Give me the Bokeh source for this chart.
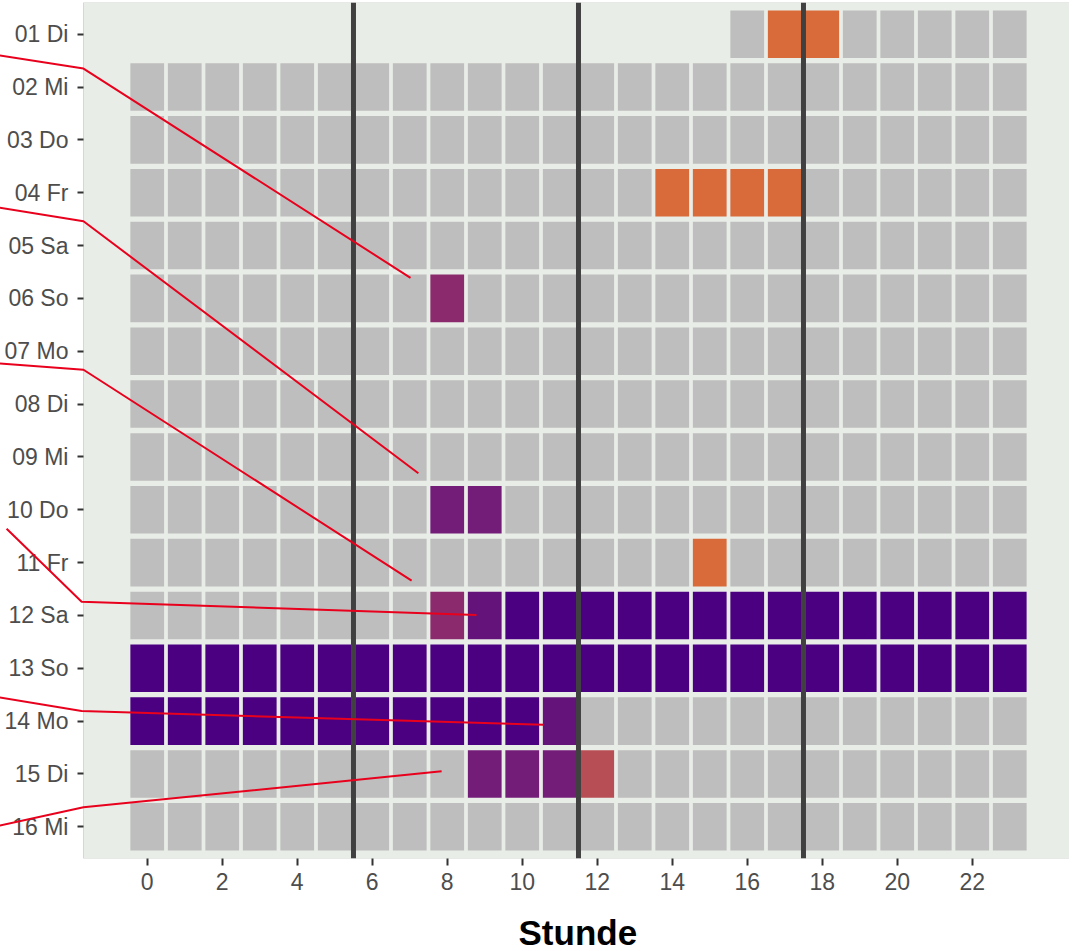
import math
from bokeh.plotting import figure
from bokeh.models import (ColumnDataSource, Range1d, FixedTicker, LinearColorMapper,
                          Span, Title)
from bokeh.transform import transform
from bokeh.embed import file_html
from bokeh.resources import INLINE

# ---------------- data ----------------
tage = ["01 Di", "02 Mi", "03 Do", "04 Fr", "05 Sa", "06 So", "07 Mo", "08 Di",
        "09 Mi", "10 Do", "11 Fr", "12 Sa", "13 So", "14 Mo", "15 Di", "16 Mi"]
stunden = list(range(24))
# '.' = keine Messung, '-' = kein Wert (grau), Ziffer = Stufe
raster = [
    "................-55-----",
    "------------------------",
    "------------------------",
    "--------------5555------",
    "------------------------",
    "--------3---------------",
    "------------------------",
    "------------------------",
    "------------------------",
    "--------22--------------",
    "---------------5--------",
    "--------3100000000000000",
    "000000000000000000000000",
    "000000000001------------",
    "---------2224-----------",
    "------------------------",
]
x_ticks = list(range(0, 23, 2))
trennlinien = [5.5, 11.5, 17.5]
# leader lines (hour, day index)
leader_x = [[-3.95, -1.70, 7.02], [-3.95, -1.70, 7.23], [-3.95, -1.70, 7.05],
            [-3.75, -1.75, 8.78], [-3.95, -1.75, 10.57], [-3.95, -1.70, 7.85]]
leader_y = [[1.40, 1.65, 5.61], [4.28, 4.54, 9.31], [7.23, 7.35, 11.34],
            [10.36, 11.74, 11.99], [13.55, 13.81, 14.07], [15.98, 15.63, 14.95]]

# ---------------- styles ----------------
farben = ["#4B0082", "#631379", "#731D79", "#8B2A6C", "#B84E55", "#D96A39"]
FONT = "Liberation Sans"

xs, ys, vs = [], [], []
for i, zeile in enumerate(raster):
    for h, ch in zip(stunden, zeile):
        if ch == ".":
            continue
        xs.append(h)
        ys.append(i + 1)
        vs.append(float("nan") if ch == "-" else float(ch))
src = ColumnDataSource(dict(x=xs, y=ys, v=vs))

x_lo, x_hi = min(stunden) - 0.5, max(stunden) + 0.5
pad = 0.05 * (x_hi - x_lo)
px_lo, px_hi = x_lo - pad, x_hi + pad
py_lo, py_hi = 0.4, len(tage) + 0.6

W = 1069
x_start = -3.913
x_end = x_start + W / 37.5

p = figure(width=W, height=970,
           x_range=Range1d(x_start, x_end),
           y_range=Range1d(py_hi, py_lo),
           output_backend="svg", toolbar_location=None,
           min_border_left=0, min_border_right=0, min_border_top=2, min_border_bottom=0,
           background_fill_color="white", border_fill_color="white",
           outline_line_color=None)
p.grid.visible = False

# panel background
p.quad(left=[px_lo], right=[px_hi], top=[py_lo], bottom=[py_hi],
       fill_color="#E9EDE8", line_color="#D4D7D3", line_width=1)

mapper = LinearColorMapper(palette=farben, low=-0.5, high=len(farben) - 0.5,
                           nan_color="#BEBEBE")
p.rect(x="x", y="y", width=0.9, height=0.9, source=src,
       fill_color=transform("v", mapper), line_color=None)

for t in trennlinien:
    p.add_layout(Span(location=t, dimension="height", line_color="#404040",
                      line_width=5))

r = p.multi_line(xs=leader_x, ys=leader_y, line_color="#E8001C", line_width=2)
r.level = "overlay"

# axes
xa = p.xaxis[0]
xa.ticker = FixedTicker(ticks=x_ticks)
xa.axis_line_color = None
xa.major_tick_in = 0
xa.major_tick_out = 7
xa.major_tick_line_color = "#333333"
xa.major_tick_line_width = 2
xa.minor_tick_line_color = None
xa.major_label_text_font = FONT
xa.major_label_text_font_size = "23px"
xa.major_label_text_color = "#4D4D4D"
xa.major_label_standoff = 7

ya = p.yaxis[0]
ya.fixed_location = px_lo
ya.ticker = FixedTicker(ticks=list(range(1, len(tage) + 1)))
ya.major_label_overrides = {i + 1: t for i, t in enumerate(tage)}
ya.axis_line_color = None
ya.major_tick_in = 0
ya.major_tick_out = 6
ya.major_tick_line_color = "#333333"
ya.major_tick_line_width = 2
ya.minor_tick_line_color = None
ya.major_label_text_font = FONT
ya.major_label_text_font_size = "23px"
ya.major_label_text_color = "#4D4D4D"
ya.major_label_standoff = 9

p.add_layout(Title(text="Stunde", align="left", offset=518, text_font=FONT,
                   text_font_size="35px", text_font_style="bold",
                   text_color="black", standoff=37), "below")

open("out.html", "w").write(file_html(p, INLINE))
